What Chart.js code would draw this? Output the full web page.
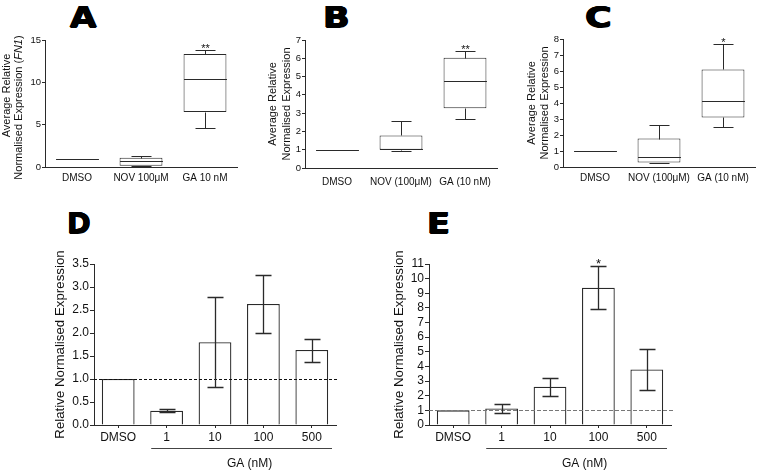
<!DOCTYPE html>
<html><head><meta charset="utf-8">
<script src="https://cdn.jsdelivr.net/npm/chart.js@4.4.1/dist/chart.umd.min.js"></script>
<style>
html,body{margin:0;padding:0;background:#fff;}
body{width:760px;height:474px;position:relative;overflow:hidden;}
canvas{position:absolute;}
.lt{position:absolute;font-family:"DejaVu Sans",sans-serif;font-weight:bold;font-size:28px;line-height:28px;color:#000;text-shadow:0.6px 0 0 #000,-0.6px 0 0 #000,0 0.5px 0 #000,0 -0.5px 0 #000;transform-origin:0 0;}
</style></head><body>
<div class="lt" style="left:70px;top:4px;transform:scaleX(1.22)">A</div>
<div class="lt" style="left:323px;top:4px;transform:scaleX(1.25)">B</div>
<div class="lt" style="left:585px;top:4px;transform:scaleX(1.3)">C</div>
<div class="lt" style="left:67px;top:210px;transform:scaleX(1.02)">D</div>
<div class="lt" style="left:427px;top:210px;transform:scaleX(1.2)">E</div>
<canvas id="cA" width="250" height="165" style="left:0px;top:30px"></canvas>
<canvas id="cB" width="255" height="165" style="left:250px;top:30px"></canvas>
<canvas id="cC" width="260" height="165" style="left:500px;top:30px"></canvas>
<canvas id="cD" width="380" height="234" style="left:0px;top:240px"></canvas>
<canvas id="cE" width="380" height="234" style="left:380px;top:240px"></canvas>
<script>
// ---------- data ----------
const categoriesA = ['DMSO', 'NOV 100\u03bcM', 'GA 10 nM'];
const categoriesBC = ['DMSO', 'NOV (100\u03bcM)', 'GA (10 nM)'];
const minA = [1, 0.08, 4.65];
const q1A = [1, 0.15, 6.5];
const medianA = [1, 0.7, 10.45];
const q3A = [1, 1.1, 13.35];
const maxA = [1, 1.25, 13.85];
const starsA = ['', '', '**'];
const minB = [1, 0.92, 2.7];
const q1B = [1, 1.0, 3.27];
const medianB = [1, 1.04, 4.78];
const q3B = [1, 1.78, 6.03];
const maxB = [1, 2.58, 6.4];
const starsB = ['', '', '**'];
const minC = [1, 0.22, 2.53];
const q1C = [1, 0.28, 3.1];
const medianC = [1, 0.63, 4.13];
const q3C = [1, 1.78, 6.1];
const maxC = [1, 2.6, 7.67];
const starsC = ['', '', '*'];
const doseCategories = ['DMSO', '1', '10', '100', '500'];
const meanD = [1, 0.31, 1.80, 2.63, 1.63];
const errLowD = [1, 0.28, 0.83, 1.99, 1.37];
const errHighD = [1, 0.34, 2.78, 3.26, 1.88];
const starsD = ['', '', '', '', ''];
const meanE = [1, 1.13, 2.62, 9.38, 3.80];
const errLowE = [1, 0.81, 1.96, 7.92, 2.39];
const errHighE = [1, 1.43, 3.23, 10.85, 5.17];
const starsE = ['', '', '', '*', ''];
const yTicksA = [0, 5, 10, 15];
const yTickLabelsA = ['0', '5', '10', '15'];
const yTicksB = [0, 1, 2, 3, 4, 5, 6, 7];
const yTickLabelsB = ['0', '1', '2', '3', '4', '5', '6', '7'];
const yTicksC = [0, 1, 2, 3, 4, 5, 6, 7, 8];
const yTickLabelsC = ['0', '1', '2', '3', '4', '5', '6', '7', '8'];
const yTicksD = [0, 0.5, 1, 1.5, 2, 2.5, 3, 3.5];
const yTickLabelsD = ['0.0', '0.5', '1.0', '1.5', '2.0', '2.5', '3.0', '3.5'];
const yTicksE = [0, 1, 2, 3, 4, 5, 6, 7, 8, 9, 10, 11];
const yTickLabelsE = ['0', '1', '2', '3', '4', '5', '6', '7', '8', '9', '10', '11'];
const referenceLevel = 1;
const groupLabel = 'GA (nM)';
const titleBoxLines = ['Average Relative', 'Normalised Expression'];
const titleALine2 = ['Normalised Expression (', 'FN1', ')'];
const titleBar = 'Relative Normalised Expression';

// ---------- styling ----------
const FONT = '"Liberation Sans", Arial, sans-serif';
const LINE = '#2a2a2a';
const TEXT = '#111';

function yAxis(ticks, labels, width, fontSize, tickLen, pad, title) {
  return {
    min: ticks[0], max: ticks[ticks.length - 1],
    grid: { display: true, drawOnChartArea: false, drawTicks: true, tickLength: tickLen, color: LINE, lineWidth: 1 },
    border: { display: true, color: LINE, width: 1 },
    ticks: { color: TEXT, font: { family: FONT, size: fontSize }, padding: pad, autoSkip: false,
             callback: (v, i) => labels[i] },
    afterBuildTicks: s => { s.ticks = ticks.map(v => ({ value: v })); },
    afterFit: s => { s.width = width; },
    title: title
  };
}

function xAxis(height, fontSize, pad, tickMarks) {
  return {
    offset: true,
    grid: { display: tickMarks, offset: false, drawOnChartArea: false, drawTicks: tickMarks, tickLength: 3, color: LINE },
    border: { display: true, color: LINE, width: 1 },
    ticks: { color: TEXT, font: { family: FONT, size: fontSize }, padding: pad, autoSkip: false, maxRotation: 0, minRotation: 0 },
    afterFit: s => { s.height = height; }
  };
}

function boxPlugin(mins, q1s, meds, q3s, maxs, stars, capW) {
  return {
    id: 'boxWhiskers',
    afterDatasetsDraw(chart) {
      const ctx = chart.ctx, ys = chart.scales.y;
      const els = chart.getDatasetMeta(0).data;
      const py = v => Math.round(ys.getPixelForValue(v)) + 0.5;
      ctx.save();
      ctx.strokeStyle = LINE; ctx.lineWidth = 1;
      els.forEach((el, i) => {
        const x = Math.round(el.x) + 0.5, hw = el.width / 2, cw = capW / 2;
        ctx.beginPath();
        ctx.moveTo(x - hw, py(meds[i])); ctx.lineTo(x + hw, py(meds[i]));
        if (maxs[i] > q3s[i]) {
          ctx.moveTo(x, py(q3s[i])); ctx.lineTo(x, py(maxs[i]));
          ctx.moveTo(x - cw, py(maxs[i])); ctx.lineTo(x + cw, py(maxs[i]));
        }
        if (mins[i] < q1s[i]) {
          ctx.moveTo(x, py(q1s[i])); ctx.lineTo(x, py(mins[i]));
          ctx.moveTo(x - cw, py(mins[i])); ctx.lineTo(x + cw, py(mins[i]));
        }
        ctx.stroke();
        if (stars[i]) {
          ctx.fillStyle = TEXT; ctx.font = '11px ' + FONT;
          ctx.textAlign = 'center'; ctx.textBaseline = 'alphabetic';
          ctx.fillText(stars[i], x, py(maxs[i]) + 1);
        }
      });
      ctx.restore();
    }
  };
}

function makeBoxChart(id, cats, mins, q1s, meds, q3s, maxs, stars, yT, yL, g) {
  const plugins = [boxPlugin(mins, q1s, meds, q3s, maxs, stars, 20)];
  if (g.customTitle) plugins.push(g.customTitle);
  return new Chart(document.getElementById(id), {
    type: 'bar',
    data: {
      labels: cats,
      datasets: [{
        data: q1s.map((v, i) => [v, q3s[i]]),
        backgroundColor: '#ffffff', borderColor: LINE, borderWidth: 1, borderSkipped: false,
        categoryPercentage: 1, barPercentage: 0.67
      }]
    },
    options: {
      responsive: false, animation: false, devicePixelRatio: 1,
      layout: { padding: g.padding },
      plugins: { legend: { display: false }, tooltip: { enabled: false } },
      scales: {
        x: xAxis(g.xh, 10, g.xpad, false),
        y: yAxis(yT, yL, g.yw, 9.5, 3, 1, g.title)
      }
    },
    plugins: plugins
  });
}

function barPlugin(means, lows, highs, stars, capW, refColor, dash) {
  return {
    id: 'errorBars',
    afterDatasetsDraw(chart) {
      const ctx = chart.ctx, ys = chart.scales.y, ca = chart.chartArea;
      const els = chart.getDatasetMeta(0).data;
      const py = v => Math.round(ys.getPixelForValue(v)) + 0.5;
      ctx.save();
      ctx.strokeStyle = refColor; ctx.lineWidth = 1; ctx.setLineDash(dash);
      ctx.beginPath(); ctx.moveTo(ca.left, py(referenceLevel)); ctx.lineTo(ca.right + 2, py(referenceLevel)); ctx.stroke();
      ctx.setLineDash([]);
      ctx.strokeStyle = LINE; ctx.lineWidth = 1.3;
      els.forEach((el, i) => {
        const x = Math.round(el.x) + 0.5, cw = capW / 2;
        if (highs[i] > lows[i]) {
          ctx.beginPath();
          ctx.moveTo(x, py(lows[i])); ctx.lineTo(x, py(highs[i]));
          ctx.moveTo(x - cw, py(highs[i])); ctx.lineTo(x + cw, py(highs[i]));
          ctx.moveTo(x - cw, py(lows[i])); ctx.lineTo(x + cw, py(lows[i]));
          ctx.stroke();
        }
        if (stars[i]) {
          ctx.fillStyle = TEXT; ctx.font = '13px ' + FONT;
          ctx.textAlign = 'center'; ctx.textBaseline = 'alphabetic';
          ctx.fillText(stars[i], x, py(highs[i]) + 1.5);
        }
      });
      ctx.restore();
    },
    afterDraw(chart) {
      const ctx = chart.ctx, ca = chart.chartArea;
      const el1 = chart.getDatasetMeta(0).data[1];
      const left = el1.x - el1.width / 2 + 1, right = ca.right - 4;
      const y = Math.round(ca.bottom + 23) + 0.5;
      ctx.save();
      ctx.strokeStyle = '#444'; ctx.lineWidth = 1.2;
      ctx.beginPath(); ctx.moveTo(left, y); ctx.lineTo(right, y); ctx.stroke();
      ctx.fillStyle = TEXT; ctx.font = '12px ' + FONT; ctx.textAlign = 'center'; ctx.textBaseline = 'middle';
      ctx.fillText(groupLabel, (left + right) / 2 + 8, ca.bottom + 39);
      ctx.restore();
    }
  };
}

function makeBarChart(id, means, lows, highs, stars, yT, yL, g) {
  return new Chart(document.getElementById(id), {
    type: 'bar',
    data: {
      labels: doseCategories,
      datasets: [{
        data: means,
        backgroundColor: '#ffffff', borderColor: LINE, borderWidth: 1.3, borderSkipped: 'bottom',
        categoryPercentage: 1, barPercentage: 0.677
      }]
    },
    options: {
      responsive: false, animation: false, devicePixelRatio: 1,
      layout: { padding: g.padding },
      plugins: { legend: { display: false }, tooltip: { enabled: false } },
      scales: {
        x: xAxis(49, 12, 2, true),
        y: yAxis(yT, yL, g.yw, 12, 4, 1, {
          display: true, text: titleBar, color: TEXT,
          font: { family: FONT, size: 13.3, lineHeight: 1.2 }, padding: { top: 1, bottom: 0 }
        })
      }
    },
    plugins: [barPlugin(means, lows, highs, stars, 16, g.refColor, g.dash)]
  });
}

const titleAPlugin = {
  id: 'titleA',
  afterDraw(chart) {
    const ctx = chart.ctx, ca = chart.chartArea;
    const cy = (ca.top + ca.bottom) / 2;
    const lines = [[{ t: titleBoxLines[0], i: false }],
                   [{ t: titleALine2[0], i: false }, { t: titleALine2[1], i: true }, { t: titleALine2[2], i: false }]];
    const xs = [7, 19], dys = [-8, 4];
    ctx.save();
    ctx.fillStyle = TEXT; ctx.textBaseline = 'middle'; ctx.textAlign = 'left';
    lines.forEach((segs, li) => {
      ctx.save();
      ctx.translate(xs[li], cy + dys[li]); ctx.rotate(-Math.PI / 2);
      let total = 0;
      segs.forEach(s => { ctx.font = (s.i ? 'italic ' : '') + '11px ' + FONT; total += ctx.measureText(s.t).width; });
      let x = -total / 2;
      segs.forEach(s => { ctx.font = (s.i ? 'italic ' : '') + '11px ' + FONT; ctx.fillText(s.t, x, 0); x += ctx.measureText(s.t).width; });
      ctx.restore();
    });
    ctx.restore();
  }
};

makeBoxChart('cA', categoriesA, minA, q1A, medianA, q3A, maxA, starsA, yTicksA, yTickLabelsA, {
  padding: { left: 0, top: 10, right: 13, bottom: 0 }, yw: 45, xh: 28, xpad: 5,
  title: { display: false }, customTitle: titleAPlugin
});
makeBoxChart('cB', categoriesBC, minB, q1B, medianB, q3B, maxB, starsB, yTicksB, yTickLabelsB, {
  padding: { left: 16, top: 10, right: 8, bottom: 0 }, yw: 39, xh: 27, xpad: 8,
  title: { display: true, text: titleBoxLines, color: TEXT, font: { family: FONT, size: 11, lineHeight: 1.27 }, padding: { top: 0, bottom: 0 } }
});
makeBoxChart('cC', categoriesBC, minC, q1C, medianC, q3C, maxC, starsC, yTicksC, yTickLabelsC, {
  padding: { left: 25, top: 9, right: 5, bottom: 0 }, yw: 38, xh: 28, xpad: 5,
  title: { display: true, text: titleBoxLines, color: TEXT, font: { family: FONT, size: 11, lineHeight: 1.18 }, padding: { top: 0.5, bottom: 0 } }
});
makeBarChart('cD', meanD, errLowD, errHighD, starsD, yTicksD, yTickLabelsD, {
  padding: { left: 51, top: 24, right: 44, bottom: 0 }, yw: 43, refColor: '#111', dash: [3, 2]
});
makeBarChart('cE', meanE, errLowE, errHighE, starsE, yTicksE, yTickLabelsE, {
  padding: { left: 10, top: 24, right: 89, bottom: 0 }, yw: 39, refColor: '#777', dash: [4, 2]
});
</script>
</body></html>
